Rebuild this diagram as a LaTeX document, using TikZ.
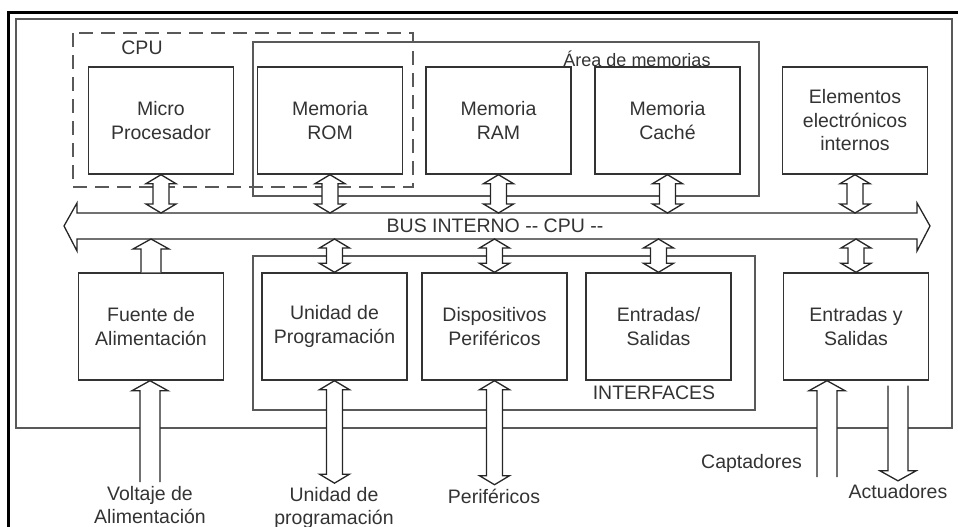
\documentclass[tikz,border=0pt]{standalone}
\usepackage{fontspec}
\setmainfont{Liberation Sans}
\usetikzlibrary{positioning, calc}

\newcommand{\letra}{\fontsize{19.5}{23.5}\selectfont}
% flecha de bloque con dos puntas: #1 arriba, #2 abajo
\newcommand{\flechadoble}[2]{%
  \path (#1) coordinate (fa) (#2) coordinate (fb);
  \draw[flecha] let \p1=(fa), \p2=(fb) in
    (\x1,\y1) -- (\x1+15pt,\y1-9pt) -- (\x1+8pt,\y1-9pt) -- (\x1+8pt,\y2+9pt)
    -- (\x1+15pt,\y2+9pt) -- (\x1,\y2) -- (\x1-15pt,\y2+9pt) -- (\x1-8pt,\y2+9pt)
    -- (\x1-8pt,\y1-9pt) -- (\x1-15pt,\y1-9pt) -- cycle;}
% flecha de bloque hacia arriba: #1 cola (abierta), #2 punta
\newcommand{\flechasube}[2]{%
  \path (#1) coordinate (fa) (#2) coordinate (fb);
  \draw[flecha] let \p1=(fa), \p2=(fb) in
    (\x1+10pt,\y1) -- (\x1+10pt,\y2-10pt) -- (\x1+18pt,\y2-10pt) -- (\x1,\y2)
    -- (\x1-18pt,\y2-10pt) -- (\x1-10pt,\y2-10pt) -- (\x1-10pt,\y1);}
% flecha de bloque hacia abajo: #1 cola (abierta), #2 punta
\newcommand{\flechabaja}[2]{%
  \path (#1) coordinate (fa) (#2) coordinate (fb);
  \draw[flecha] let \p1=(fa), \p2=(fb) in
    (\x1+10pt,\y1) -- (\x1+10pt,\y2+10pt) -- (\x1+18pt,\y2+10pt) -- (\x1,\y2)
    -- (\x1-18pt,\y2+10pt) -- (\x1-10pt,\y2+10pt) -- (\x1-10pt,\y1);}

\begin{document}
\begin{tikzpicture}[
        x=1pt, y=-1pt,
        bloque/.style={rectangle, draw=black!80, line width=1.4pt, minimum width=145pt, minimum height=107pt, align=center, font=\letra, text=black!80},
        marco/.style={draw=black!65, line width=1.6pt},
        etiqueta/.style={align=center, inner sep=1pt, outer sep=3pt, font=\letra, text=black!80},
        flecha/.style={draw=black!85, line width=1.3pt, fill=white, line join=miter}
    ]
    \useasboundingbox (0,0) rectangle (958,527);

    % marcos
    \draw[line width=3pt] (8,527) -- (8,13) -- (958,13);
    \draw[marco] (16,19) rectangle (952,428);
    \draw[marco] (253,42) rectangle (759,196);
    \draw[marco] (253,256) rectangle (755,410);
    \draw[draw=black!65, line width=2pt, dash pattern=on 14pt off 8pt] (73,33) rectangle (413,187);

    \node[etiqueta] (cpu) at (142,48) {CPU};
    \node[etiqueta, font=\fontsize{18}{22}\selectfont, anchor=south] (areamem) at (637,71) {Área de memorias};
    \node[etiqueta] (interfaces) at (654,393) {INTERFACES};

    % fila superior
    \node[bloque] (mp) at (161,120.5) {Micro\\Procesador};
    \node[bloque] (rom) at (330,120.5) {Memoria\\ROM};
    \node[bloque] (ram) at (498.5,120.5) {Memoria\\RAM};
    \node[bloque] (cache) at (667.5,120.5) {Memoria\\Caché};
    \node[bloque] (elem) at (855,120.5) {Elementos\\electrónicos\\internos};

    % fila inferior
    \node[bloque] (fuente) at (151,326.5) {Fuente de\\Alimentación};
    \node[bloque] (uprog) at (334.5,326.5) {Unidad de\\Programación};
    \node[bloque] (disp) at (494.5,326.5) {Dispositivos\\Periféricos};
    \node[bloque] (es) at (658.5,326.5) {Entradas/\\Salidas};
    \node[bloque] (eys) at (856,326.5) {Entradas y\\Salidas};

    % bus interno
    \draw[flecha] (64,226) -- (77,203) -- (77,213) -- (917,213) -- (917,203) -- (930,226)
        -- (917,251) -- (917,239) -- (77,239) -- (77,251) -- cycle;
    \coordinate (busarriba) at (497,213);
    \coordinate (busabajo) at (497,239);
    \node[etiqueta] (bus) at (495,226) {BUS INTERNO {-}{-} CPU {-}{-}};

    \foreach \n in {mp, rom, ram, cache, elem} {
        \flechadoble{\n.south}{\n.south |- busarriba}
    }
    \foreach \n in {uprog, disp, es, eys} {
        \flechadoble{\n.north |- busabajo}{\n.north}
    }
    \flechasube{fuente.north}{fuente.north |- busabajo}

    % entradas y salidas externas
    \node[etiqueta] (voltaje) at (150,505) {Voltaje de\\Alimentación};
    \node[etiqueta] (uprogext) at (334,508) {Unidad de\\programación};
    \node[etiqueta] (perif) at (494,496) {Periféricos};
    \node[etiqueta, anchor=east] (captadores) at (806,463) {Captadores};
    \node[etiqueta] (actuadores) at (898,492) {Actuadores};
    \coordinate (capt) at (827,477);
    \coordinate (act) at ([xshift=42pt, yshift=-5pt]eys.south);

    \flechasube{voltaje.north}{fuente.south}
    \flechadoble{uprog.south}{uprog.south |- uprogext.north}
    \flechadoble{disp.south}{disp.south |- perif.north}
    \flechasube{capt}{capt |- eys.south}
    \flechabaja{act}{act |- actuadores.north}
\end{tikzpicture}
\end{document}
